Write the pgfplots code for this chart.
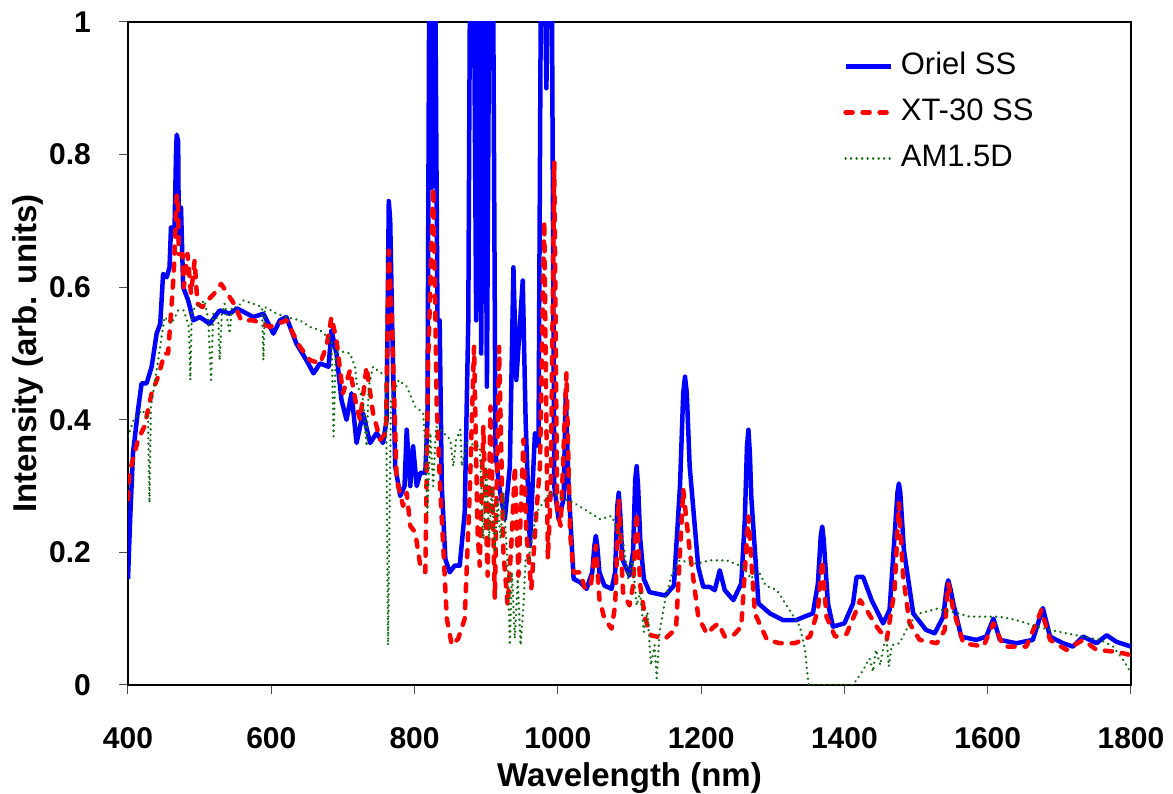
\documentclass[border=0pt]{standalone}
\usepackage{pgfplots}
\pgfplotsset{compat=1.18}
\usepackage{fontspec}
\setmainfont{Liberation Sans}
\definecolor{amgreen}{RGB}{20,110,20}
\definecolor{orielblue}{RGB}{0,0,255}
\definecolor{xtred}{RGB}{255,0,0}
\begin{document}
\begin{tikzpicture}
\useasboundingbox (-128pt,-109pt) rectangle (1045pt,685pt);
\begin{axis}[
  at={(0pt,0pt)}, anchor=south west,
  scale only axis,
  width=1003pt, height=663pt,
  xmin=400, xmax=1800, ymin=0, ymax=1,
  xtick={400,600,...,1800},
  ytick={0,0.2,0.4,0.6,0.8,1},
  tick align=outside,
  xtick pos=bottom, ytick pos=left,
  major tick length=9pt,
  axis line style={line width=1.8pt},
  tick style={line width=1pt,black!70},
  /pgf/number format/assume math mode=true,
  /pgf/number format/1000 sep={},
  ticklabel style={font=\fontsize{30}{34}\selectfont\bfseries},
  xticklabel style={anchor=base, inner sep=0pt, yshift=-55pt},
  yticklabel style={anchor=east, inner sep=0pt, xshift=-28pt},
  xlabel={Wavelength (nm)},
  ylabel={Intensity (arb. units)},
  label style={font=\fontsize{33}{38}\selectfont\bfseries},
  xlabel style={at={(axis description cs:0.5,-0.1538)}, anchor=base},
  ylabel style={at={(axis description cs:-0.0997,0.5)}, anchor=center},
  legend style={draw=none, fill=none, at={(axis description cs:0.713,0.956)}, anchor=north west,
    inner sep=0pt, font=\fontsize{31}{36}\selectfont, row sep=16pt, column sep=8pt,
    nodes={inner sep=0pt, text height=23pt, text depth=7pt}},
  legend cell align=left,
  legend image code/.code={\draw[#1] (0pt,0pt) -- (45pt,0pt);},
]
\addplot[orielblue, line width=4.5pt, line join=round] coordinates {
(400,0.16)(403,0.25)(407,0.35)(414,0.415)(419,0.455)(426,0.455)(433,0.48)(440,0.53)
(445,0.545)(449,0.62)(454,0.615)(458,0.63)(460,0.69)(465,0.69)(467,0.80)(468,0.83)
(470,0.82)(471,0.67)(474,0.72)(477,0.60)(484,0.58)(491,0.55)(500,0.555)(514,0.545)
(528,0.565)(542,0.56)(552,0.568)(575,0.555)(589,0.56)(603,0.53)(612,0.55)(621,0.555)
(635,0.515)(649,0.49)(659,0.47)(668,0.485)(680,0.48)(684,0.535)(691,0.50)(698,0.43)
(705,0.40)(712,0.44)(719,0.365)(728,0.41)(738,0.365)(747,0.38)(756,0.365)(761,0.40)
(764,0.73)(766,0.70)(769,0.53)(773,0.33)(780,0.285)(786,0.30)(789,0.385)(794,0.30)
(798,0.36)(803,0.30)(808,0.32)(815,0.32)(818,0.40)(821,1.2)(824,0.75)(828,1.2)
(832,0.55)(835,0.55)(838,0.30)(843,0.19)(849,0.17)(856,0.18)(863,0.18)(870,0.26)
(875,0.55)(878,1.2)(882,1.2)(886,0.55)(890,1.2)(893,0.50)(897,1.2)(901,0.45)
(905,1.2)(909,1.2)(913,0.35)(918,0.30)(926,0.25)(933,0.33)(938,0.63)(942,0.46)
(951,0.61)(955,0.40)(961,0.21)(968,0.38)(973,0.36)(977,1.2)(980,1.2)(984,0.9)
(988,1.2)(991,1.2)(995,0.30)(1001,0.25)(1008,0.28)(1011,0.44)(1015,0.30)(1022,0.16)
(1031,0.155)(1040,0.145)(1048,0.17)(1051,0.21)(1053,0.225)(1055,0.21)(1058,0.17)(1065,0.15)(1075,0.145)
(1080,0.17)(1083,0.27)(1085,0.29)(1087,0.26)(1090,0.19)(1100,0.165)(1105,0.2)(1108,0.31)(1110,0.33)(1112,0.30)(1115,0.22)
(1120,0.16)(1128,0.14)(1150,0.135)(1162,0.15)(1170.5,0.30)(1175,0.44)(1177.5,0.465)(1180,0.44)(1184,0.33)
(1196,0.178)(1203,0.148)(1212,0.148)(1219,0.143)(1226,0.173)(1233,0.143)(1245,0.128)
(1256,0.153)(1261,0.25)(1264,0.36)(1266,0.385)(1268,0.35)(1270,0.284)(1280,0.123)(1296,0.108)(1314,0.098)
(1333,0.098)(1344,0.103)(1356,0.108)(1363,0.153)(1367,0.225)(1369,0.239)(1371,0.22)(1377,0.123)(1384,0.088)
(1400,0.093)(1412,0.123)(1417,0.163)(1426,0.163)(1438,0.128)(1454,0.093)(1463,0.113)
(1470,0.224)(1474,0.29)(1476,0.304)(1478,0.29)(1483,0.204)(1496,0.108)(1514,0.083)(1526,0.078)(1538,0.103)
(1543,0.15)(1545,0.158)(1548,0.145)(1552,0.123)(1563,0.073)(1584,0.068)(1598,0.073)(1608,0.10)(1617,0.068)
(1640,0.063)(1663,0.068)(1677,0.116)(1687,0.073)(1705,0.063)(1719,0.058)(1733,0.073)
(1752,0.063)(1766,0.075)(1780,0.065)(1800,0.058)
};
\addlegendentry{Oriel SS}
\addplot[xtred, line width=4.5pt, line cap=round, line join=round, dash pattern=on 7pt off 10pt] coordinates {
(400,0.28)(402,0.32)(414,0.37)(423,0.39)(433,0.44)(442,0.465)(451,0.50)(456,0.50)
(461,0.575)(464,0.625)(468,0.74)(470,0.72)(471,0.65)(476,0.65)(478,0.60)(483,0.65)
(488,0.59)(493,0.64)(497,0.575)(504,0.57)(511,0.58)(520,0.59)(530,0.605)(539,0.59)
(548,0.575)(558,0.55)(575,0.55)(598,0.54)(621,0.55)(640,0.51)(654,0.49)(668,0.485)
(677,0.51)(684,0.555)(691,0.52)(700,0.44)(710,0.475)(719,0.42)(724,0.40)(733,0.48)
(742,0.41)(752,0.37)(760,0.38)(764,0.655)(769,0.53)(775,0.31)(784,0.27)(789,0.29)
(794,0.24)(801,0.23)(808,0.18)(815,0.17)(819,0.49)(826,0.75)(831,0.42)(836,0.29)
(840,0.21)(845,0.10)(852,0.06)(861,0.07)(870,0.10)(877,0.29)(883,0.51)(888,0.23)
(891,0.18)(896,0.39)(902,0.165)(906,0.42)(912,0.13)(918,0.51)(924,0.20)(930,0.12)
(936,0.23)(940,0.33)(945,0.165)(952,0.37)(956,0.23)(963,0.145)(970,0.26)(975,0.33)
(981,0.70)(986,0.19)(990,0.29)(995,0.79)(999,0.26)(1004,0.24)(1012,0.47)(1017,0.23)
(1022,0.17)(1031,0.17)(1038,0.145)(1046,0.15)(1053,0.21)(1058,0.13)(1065,0.10)
(1075,0.085)(1080,0.12)(1085,0.28)(1091,0.14)(1100,0.12)(1105,0.15)(1110,0.26)
(1115,0.15)(1122,0.10)(1130,0.075)(1150,0.07)(1165,0.085)(1175,0.295)(1184,0.203)
(1196,0.103)(1208,0.077)(1217,0.087)(1224,0.093)(1233,0.073)(1245,0.075)(1256,0.088)
(1266,0.254)(1275,0.108)(1292,0.068)(1310,0.063)(1331,0.063)(1352,0.073)(1363,0.113)
(1369,0.188)(1375,0.103)(1387,0.073)(1403,0.077)(1415,0.108)(1422,0.128)(1431,0.113)
(1445,0.088)(1459,0.068)(1470,0.143)(1476,0.274)(1482,0.163)(1491,0.093)(1505,0.068)
(1529,0.063)(1540,0.083)(1545,0.153)(1552,0.113)(1566,0.063)(1594,0.058)(1608,0.093)
(1622,0.058)(1654,0.058)(1675,0.113)(1687,0.068)(1710,0.053)(1733,0.068)(1752,0.053)
(1780,0.05)(1800,0.045)
};
\addlegendentry{XT-30 SS}
\addplot[amgreen, line width=2.6pt, dash pattern=on 0.01pt off 5.5pt, line cap=round, line join=round] coordinates {
(400,0.375)(408,0.40)(420,0.415)(428,0.40)(430,0.275)(432,0.42)(438,0.46)(451,0.555)
(461,0.545)(470,0.565)(478,0.565)(485,0.54)(487,0.46)(489,0.565)(496,0.57)(507,0.58)
(512,0.55)(516,0.46)(519,0.56)(526,0.55)(528,0.49)(531,0.56)(535,0.575)(542,0.53)
(545,0.57)(553,0.57)(561,0.58)(575,0.575)(587,0.57)(589,0.49)(591,0.57)(608,0.56)
(621,0.555)(640,0.55)(654,0.54)(668,0.535)(684,0.52)(687,0.375)(690,0.505)(710,0.50)
(717,0.48)(719,0.455)(728,0.43)(733,0.36)(736,0.45)(742,0.48)(760,0.465)(763,0.06)
(767,0.43)(778,0.46)(789,0.45)(801,0.42)(812,0.41)(815,0.36)(818,0.26)(822,0.38)
(826,0.30)(830,0.39)(836,0.385)(850,0.37)(854,0.33)(858,0.37)(864,0.385)(866,0.33)
(873,0.365)(891,0.36)(896,0.22)(900,0.33)(904,0.22)(908,0.30)(912,0.20)(916,0.28)
(920,0.22)(924,0.29)(930,0.18)(933,0.06)(936,0.17)(940,0.07)(944,0.16)(948,0.06)
(952,0.12)(955,0.19)(959,0.19)(970,0.26)(989,0.29)(1022,0.275)(1059,0.25)(1075,0.255)
(1085,0.23)(1092,0.21)(1098,0.16)(1104,0.19)(1110,0.12)(1115,0.14)(1120,0.08)
(1125,0.11)(1130,0.03)(1135,0.06)(1138,0.01)(1142,0.08)(1150,0.13)(1160,0.17)
(1170,0.188)(1194,0.183)(1212,0.188)(1236,0.188)(1259,0.178)(1270,0.16)(1275,0.17)
(1282,0.168)(1290,0.15)(1306,0.143)(1329,0.103)(1338,0.088)(1345,0.053)(1350,0.0)
(1412,0.0)(1426,0.022)(1435,0.04)(1440,0.02)(1444,0.053)(1450,0.03)(1455,0.06)
(1459,0.068)(1462,0.028)(1466,0.06)(1477,0.063)(1491,0.093)(1505,0.108)(1529,0.115)
(1552,0.11)(1575,0.103)(1617,0.103)(1640,0.098)(1663,0.09)(1687,0.083)(1710,0.078)
(1733,0.073)(1757,0.068)(1775,0.058)(1789,0.038)(1800,0.018)
};
\addlegendentry{AM1.5D}
\end{axis}
\end{tikzpicture}
\end{document}
